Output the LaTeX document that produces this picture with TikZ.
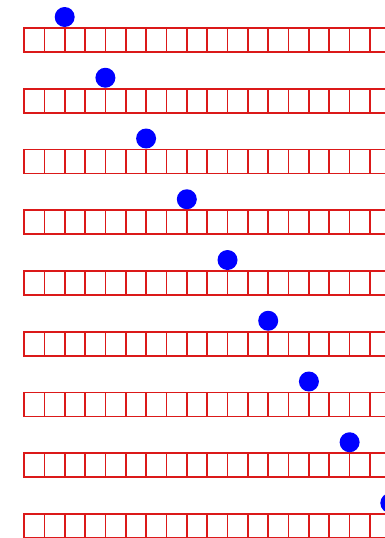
\documentclass[tikz,border=0pt]{standalone}
\usetikzlibrary{positioning}
\definecolor{cellred}{rgb}{0.86,0.1,0.1}
\definecolor{ballblue}{rgb}{0,0,1}

\begin{document}
\begin{tikzpicture}[x=1pt, y=-1pt]
            \useasboundingbox (0,0) rectangle (385,538);
            \clip (0,0) rectangle (385,538);
            \foreach \r in {0,...,8} {
                % --- Row of cells ---
                \foreach \c in {0,...,17}
                    \draw[cellred, line width=1.7pt] ({24+20.35*\c},{28+60.75*\r}) rectangle ++(20.35,24);
                % Ball on the row
                \node[circle, fill=ballblue, inner sep=0pt, minimum size=20pt] (ball\r) at ({24+20.35*2*(\r+1)},{17+60.75*\r}) {};
            }
        \end{tikzpicture}
\end{document}
